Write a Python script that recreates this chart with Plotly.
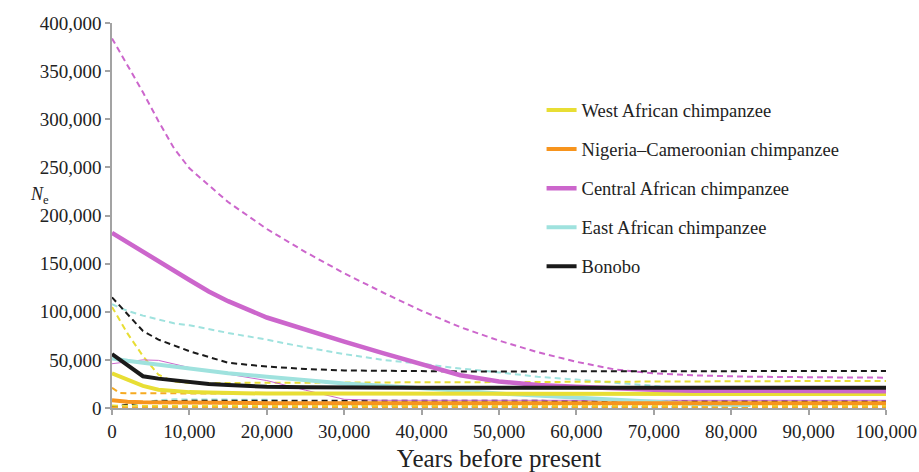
import plotly.graph_objects as go

# Years before present (shared sampling grid for every series)
years = [0, 1000, 2000, 4000, 6000, 8000, 10000, 12500, 15000, 20000, 25000,
         30000, 35000, 40000, 45000, 50000, 55000, 60000, 65000, 70000, 75000,
         80000, 82500, 90000, 100000]

# West African chimpanzee: estimate and bounds
west = [36000, 32500, 29500, 23000, 19000, 17500, 16500, 16000, 15500, 15000, 15000,
        15000, 15000, 15000, 15000, 14800, 14800, 14700, 14700, 14600, 14600,
        14500, 14500, 14500, 14500]
west_hi = [105000, 91000, 77500, 54000, 34500, 27500, 26000, 26000, 26000, 26000, 26200,
           26300, 26500, 26700, 26800, 27000, 27100, 27300, 27400, 27500, 27700,
           27800, 27900, 28000, 28000]
west_lo = [2500, 2300, 2200, 2000, 2000, 2000, 2000, 2000, 2000, 2000, 2000,
           2000, 2000, 2000, 2000, 2000, 2000, 2000, 2000, 2000, 2000,
           2000, 2000, 2000, 2000]

# Nigeria–Cameroonian chimpanzee
nc = [8000, 7000, 6500, 6000, 5800, 5500, 5300, 5200, 5100, 5000, 5000,
      5000, 5000, 5000, 5000, 5000, 5000, 5000, 4900, 4900, 4900,
      4900, 4900, 4900, 4900]
nc_hi = [21000, 15500, 15300, 15200, 15100, 15000, 15000, 15000, 15000, 15000, 15000,
         14900, 14900, 14800, 14800, 14700, 14600, 14500, 14500, 14400, 14300,
         14200, 14200, 14100, 14000]
nc_lo = [500, 500, 500, 500, 500, 500, 500, 500, 500, 500, 500,
         500, 500, 500, 500, 500, 500, 500, 500, 500, 500,
         500, 500, 500, 500]

# Central African chimpanzee
central = [182000, 177000, 172000, 163000, 153000, 143000, 133000, 121000, 111000, 94000, 81000,
           69000, 57000, 46000, 34000, 27500, 24000, 22000, 20000, 19000, 18000,
           17800, 17700, 17500, 17500]
central_hi = [384000, 370000, 357000, 328000, 298000, 270000, 249000, 231000, 214000, 186000, 162000,
              140000, 120000, 101000, 84000, 70000, 58000, 48000, 40000, 36000, 34000,
              33000, 32500, 32000, 31500]
central_lo = [46000, 47000, 48000, 50000, 49500, 46000, 42000, 38500, 35000, 28500, 18500,
              9000, 8000, 8000, 8000, 8000, 8000, 8000, 8000, 8000, 8000,
              8000, 8000, 8000, 8000]

# East African chimpanzee (record stops at 82,500 years)
east = [51500, 50000, 49000, 47000, 45000, 43000, 41000, 38500, 36000, 32500, 28500,
        25500, 23000, 21000, 18000, 15000, 13000, 11000, 8000, 6000, 4500,
        3500, 3000, None, None]
east_hi = [108000, 104000, 101000, 96000, 92000, 88000, 86000, 82000, 78000, 71000, 63000,
           56000, 50000, 46000, 41000, 37000, 32500, 29500, 26500, 23000, 19500,
           16500, 16000, None, None]
east_lo = [500, 1500, 3000, 6000, 8000, 9000, 9000, 9000, 9000, 8500, 5500,
           3000, 2000, 1500, 1300, 1200, 1100, 1000, 1000, 1000, 1000,
           1000, 1000, None, None]

# Bonobo
bonobo = [56000, 50000, 44500, 33000, 30500, 29000, 26500, 25000, 24000, 22000, 21500,
          21000, 21000, 21000, 21000, 21000, 21000, 21000, 21000, 21000, 21000,
          21000, 21000, 21000, 21000]
bonobo_hi = [115000, 106000, 97000, 80000, 71000, 65000, 59000, 53000, 47000, 43000, 40500,
             39000, 38500, 38000, 38000, 38000, 38000, 38000, 38000, 38000, 38300,
             38400, 38400, 38500, 38500]
bonobo_lo = [1000, 2300, 3500, 6000, 7000, 7500, 7500, 7500, 7500, 7500, 7500,
             7500, 7500, 7500, 7500, 7500, 7500, 7500, 7500, 7400, 7400,
             7300, 7300, 7300, 7300]

x_ticks = [0, 10000, 20000, 30000, 40000, 50000, 60000, 70000, 80000, 90000, 100000]
y_ticks = [0, 50000, 100000, 150000, 200000, 250000, 300000, 350000, 400000]

YELLOW = "#E8DE34"
ORANGE = "#F7941D"
ORANGE_D = "#F6AA22"
PINK = "#CC66CC"
CYAN = "#9FE2DE"
BLACK = "#1A1A1A"
FONT = "Liberation Serif"
TEXT = "#222222"
DASH = "6px,4px"

fig = go.Figure()


def dashed(y, color):
    fig.add_trace(go.Scatter(x=years, y=y, mode="lines", showlegend=False,
                             hoverinfo="skip",
                             line=dict(color=color, width=2, dash=DASH)))


# confidence bounds
dashed(central_hi, PINK)
dashed(east_hi, CYAN)
dashed(bonobo_hi, BLACK)
dashed(west_hi, YELLOW)
dashed(nc_hi, ORANGE_D)
dashed(east_lo, CYAN)
dashed(bonobo_lo, BLACK)
dashed(west_lo, YELLOW)
dashed(nc_lo, ORANGE_D)
fig.add_trace(go.Scatter(x=years, y=central_lo, mode="lines", showlegend=False,
                         hoverinfo="skip", line=dict(color=PINK, width=1)))

# point estimates
series = [
    ("East African chimpanzee", east, CYAN, 4, 4),
    ("West African chimpanzee", west, YELLOW, 4, 1),
    ("Nigeria–Cameroonian chimpanzee", nc, ORANGE, 4, 2),
    ("Central African chimpanzee", central, PINK, 4.5, 3),
    ("Bonobo", bonobo, BLACK, 4, 5),
]
for name, y, color, w, rank in series:
    fig.add_trace(go.Scatter(x=years, y=y, mode="lines", name=name,
                             legendgroup=name, legendrank=rank,
                             line=dict(color=color, width=w)))

axis_common = dict(
    showline=True, linecolor="#A3A3A3", linewidth=1.5,
    ticks="outside", ticklen=5, tickcolor="#A3A3A3", tickwidth=1.5,
    showgrid=False, zeroline=False, tickformat=",d", automargin=False,
    tickfont=dict(family=FONT, size=19, color=TEXT),
)

fig.update_layout(
    width=919, height=472,
    margin=dict(l=112, r=33, t=23, b=64),
    paper_bgcolor="white", plot_bgcolor="white",
    font=dict(family=FONT, color=TEXT),
    xaxis=dict(range=[0, 100000], tickvals=x_ticks,
               title=dict(text="Years before present",
                          font=dict(family=FONT, size=25, color=TEXT),
                          standoff=11),
               **axis_common),
    yaxis=dict(range=[0, 400000], tickvals=y_ticks, **axis_common),
    legend=dict(x=0.555, y=0.822, xanchor="left", yanchor="top",
                font=dict(family=FONT, size=18.5, color=TEXT),
                tracegroupgap=12, bgcolor="rgba(0,0,0,0)",
                itemwidth=30),
    annotations=[dict(text="<i>N</i><sub>e</sub>", xref="paper", yref="paper",
                      x=-0.094, y=0.553, xanchor="center", yanchor="middle",
                      showarrow=False,
                      font=dict(family=FONT, size=18, color=TEXT))],
)

fig.write_html("out.html")
